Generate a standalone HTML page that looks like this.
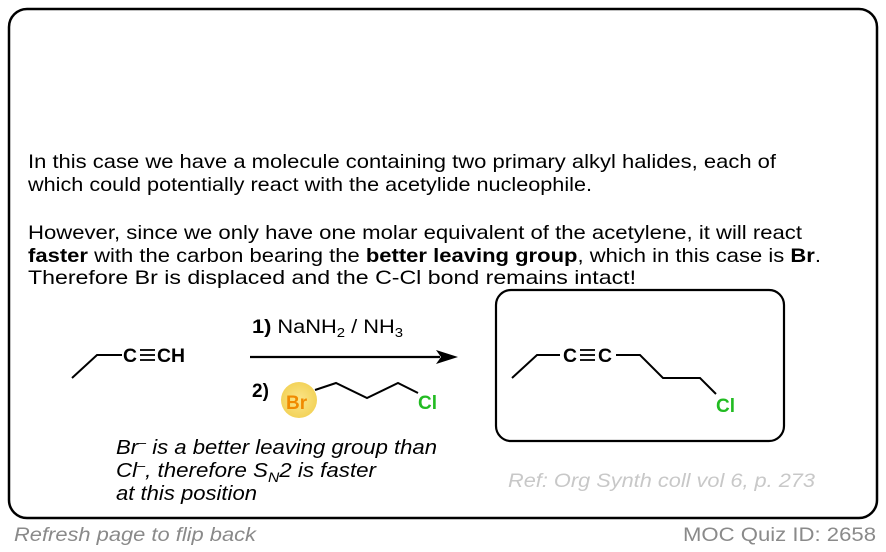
<!DOCTYPE html>
<html><head><meta charset="utf-8"><style>
html,body{margin:0;padding:0;background:#fff;}
svg{display:block;font-family:"Liberation Sans",Arial,sans-serif;}
</style></head><body>
<svg width="886" height="552" viewBox="0 0 886 552" xmlns="http://www.w3.org/2000/svg">
<rect x="9" y="9" width="868" height="509" rx="18" fill="#fff" stroke="#000" stroke-width="2.5"/>
<g font-size="19.5" fill="#000">
<text x="28" y="168" textLength="748" lengthAdjust="spacingAndGlyphs">In this case we have a molecule containing two primary alkyl halides, each of</text>
<text x="28" y="191" textLength="564" lengthAdjust="spacingAndGlyphs">which could potentially react with the acetylide nucleophile.</text>
<text x="28" y="239" textLength="774" lengthAdjust="spacingAndGlyphs">However, since we only have one molar equivalent of the acetylene, it will react</text>
<text x="28" y="262" textLength="793" lengthAdjust="spacingAndGlyphs"><tspan font-weight="bold">faster</tspan> with the carbon bearing the <tspan font-weight="bold">better leaving group</tspan>, which in this case is <tspan font-weight="bold">Br</tspan>.</text>
<text x="28" y="284" textLength="608" lengthAdjust="spacingAndGlyphs">Therefore Br is displaced and the C-Cl bond remains intact!</text>
</g>
<!-- left molecule -->
<polyline points="72,378 97,355 122,355" fill="none" stroke="#000" stroke-width="2"/>
<text x="123" y="362" font-size="19" font-weight="bold" textLength="14" lengthAdjust="spacingAndGlyphs">C</text>
<g stroke="#000" stroke-width="1.8"><line x1="140" y1="350" x2="155" y2="350"/><line x1="140" y1="355" x2="155" y2="355"/><line x1="140" y1="360" x2="155" y2="360"/></g>
<text x="157" y="362" font-size="19" font-weight="bold" textLength="28" lengthAdjust="spacingAndGlyphs">CH</text>
<!-- reagents -->
<text x="252" y="333" font-size="19" textLength="151" lengthAdjust="spacingAndGlyphs"><tspan font-weight="bold">1)</tspan> NaNH<tspan font-size="13" dy="4">2</tspan><tspan dy="-4"> / NH</tspan><tspan font-size="13" dy="4">3</tspan></text>
<line x1="250" y1="357" x2="440" y2="357" stroke="#000" stroke-width="2.2"/>
<polygon points="458,357 436,350 441,357 436,364" fill="#000"/>
<text x="252" y="397" font-size="19" font-weight="bold">2)</text>
<defs><radialGradient id="g" cx="50%" cy="50%" r="50%"><stop offset="0" stop-color="#fbe58a"/><stop offset="1" stop-color="#f3d35a"/></radialGradient></defs>
<circle cx="299" cy="400" r="18" fill="url(#g)"/>
<text x="286" y="409" font-size="19" font-weight="bold" fill="#f08a00">Br</text>
<polyline points="315,390 336,383 367,398 398,383 418,393" fill="none" stroke="#000" stroke-width="2"/>
<text x="418" y="409" font-size="19" font-weight="bold" fill="#22bb22">Cl</text>
<!-- caption -->
<g font-size="20" font-style="italic">
<text x="116" y="454" textLength="321" lengthAdjust="spacingAndGlyphs">Br<tspan dy="-7" font-size="13">–</tspan><tspan dy="7"> is a better leaving group than</tspan></text>
<text x="116" y="477" textLength="260" lengthAdjust="spacingAndGlyphs">Cl<tspan dy="-7" font-size="13">–</tspan><tspan dy="7">, therefore S</tspan><tspan font-size="14" dy="5">N</tspan><tspan dy="-5">2 is faster</tspan></text>
<text x="116" y="500" textLength="141" lengthAdjust="spacingAndGlyphs">at this position</text>
</g>
<!-- product box -->
<rect x="496" y="290" width="288" height="151" rx="15" fill="none" stroke="#000" stroke-width="2.2"/>
<polyline points="512,378 537,355 560,355" fill="none" stroke="#000" stroke-width="2"/>
<text x="563" y="362" font-size="19" font-weight="bold" textLength="14" lengthAdjust="spacingAndGlyphs">C</text>
<g stroke="#000" stroke-width="1.8"><line x1="580" y1="350" x2="595" y2="350"/><line x1="580" y1="355" x2="595" y2="355"/><line x1="580" y1="360" x2="595" y2="360"/></g>
<text x="598" y="362" font-size="19" font-weight="bold" textLength="14" lengthAdjust="spacingAndGlyphs">C</text>
<polyline points="616,355 640,355 663,378 700,378 716,394" fill="none" stroke="#000" stroke-width="2"/>
<text x="716" y="412" font-size="19" font-weight="bold" fill="#22bb22">Cl</text>
<text x="508" y="487" font-size="19" font-style="italic" fill="#c8c8c8" textLength="307" lengthAdjust="spacingAndGlyphs">Ref: Org Synth coll vol 6, p. 273</text>
<!-- footer -->
<text x="14" y="541" font-size="19" font-style="italic" fill="#8a8a8a" textLength="242" lengthAdjust="spacingAndGlyphs">Refresh page to flip back</text>
<text x="683" y="541" font-size="19" fill="#8a8a8a" textLength="193" lengthAdjust="spacingAndGlyphs">MOC Quiz ID: 2658</text>
</svg>
</body></html>
